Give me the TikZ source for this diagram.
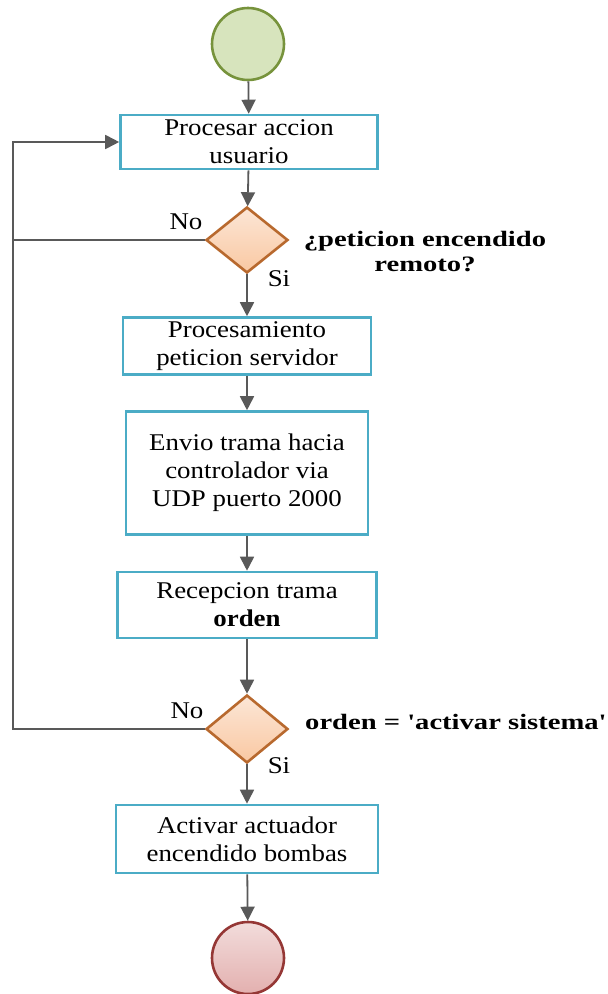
\documentclass[tikz,border=0pt]{standalone}
\usepackage{fontspec}
\setmainfont[FakeStretch=1.12]{Liberation Serif}
\newfontfamily\lblfont[FakeStretch=1.3]{Liberation Serif}
\usetikzlibrary{shapes.geometric,arrows.meta}
\definecolor{boxline}{HTML}{4BACC6}
\definecolor{decline}{HTML}{B8692E}
\definecolor{decfillA}{HTML}{FCE6D6}
\definecolor{decfillB}{HTML}{F9C8A2}
\definecolor{startline}{HTML}{77933C}
\definecolor{startfill}{HTML}{D7E4BD}
\definecolor{endline}{HTML}{953735}
\definecolor{endfillA}{HTML}{F2DCDB}
\definecolor{endfillB}{HTML}{E3B0AF}
\definecolor{flow}{HTML}{595959}
\begin{document}
\begin{tikzpicture}[x=1pt,y=-1pt,
  font=\fontsize{24}{28}\selectfont]
  \tikzstyle{proc}=[draw=boxline,line width=2.6pt,fill=white,align=center,inner sep=0pt]
  \tikzstyle{decision}=[diamond,draw=decline,line width=2.6pt,top color=decfillA,bottom color=decfillB,
    minimum width=82pt,minimum height=66pt,inner sep=0pt,aspect=1.24]
  \tikzstyle{terminal}=[circle,line width=2.6pt,minimum size=72pt,inner sep=0pt]
  \tikzstyle{line}=[draw=flow,line width=1.8pt]
  \tikzstyle{arrow}=[line,-{Triangle[length=14pt,width=14pt]}]
  \tikzstyle{question}=[font=\fontsize{22}{25}\selectfont\lblfont\bfseries,inner sep=0pt]
  \useasboundingbox (0,0) rectangle (608,994);
  \node[terminal,draw=startline,fill=startfill] (start) at (248,44) {};
  \node[proc,minimum width=257pt,minimum height=54pt] (accion) at (249,142) {Procesar accion\\usuario};
  \node[decision] (remoto) at (247,240) {};
  \node[proc,minimum width=248pt,minimum height=57pt] (peticion) at (247,346) {Procesamiento\\peticion servidor};
  \node[proc,minimum width=242pt,minimum height=123pt] (envio) at (247,473) {Envio trama hacia\\controlador via\\UDP puerto 2000};
  \node[proc,minimum width=259pt,minimum height=66pt] (recepcion) at (247,605) {Recepcion trama\\\textbf{orden}};
  \node[decision,minimum height=68pt] (activar) at (247,729) {};
  \node[proc,minimum width=262pt,minimum height=68pt] (bombas) at (247,839) {Activar actuador\\encendido bombas};
  \node[terminal,draw=endline,top color=endfillA,bottom color=endfillB] (end) at (248,958) {};
  % labels
  \node[question,align=center] (qremoto) at (425,252) {¿peticion encendido\\remoto?};
  \node[question,anchor=west] (qactivar) at (305,722) {orden = 'activar sistema'};
  \node (no1) at (186,222) {No};
  \node (si1) at (279,279) {Si};
  \node (no2) at (187,711) {No};
  \node (si2) at (279,766) {Si};
  % flow
  \draw[arrow] (start) -- (accion);
  \draw[arrow] (accion) -- (remoto);
  \draw[arrow] (remoto) -- (peticion);
  \draw[arrow] (peticion) -- (envio);
  \draw[arrow] (envio) -- (recepcion);
  \draw[arrow] (recepcion) -- (activar);
  \draw[arrow] (activar) -- (bombas);
  \draw[arrow] (bombas) -- (end);
  % back loop
  \coordinate (loopA) at (13,240);
  \coordinate (loopB) at (13,729);
  \draw[line] (remoto.west) -- (loopA);
  \draw[arrow] (activar.west) -- (loopB) |- (accion.west);
\end{tikzpicture}
\end{document}
